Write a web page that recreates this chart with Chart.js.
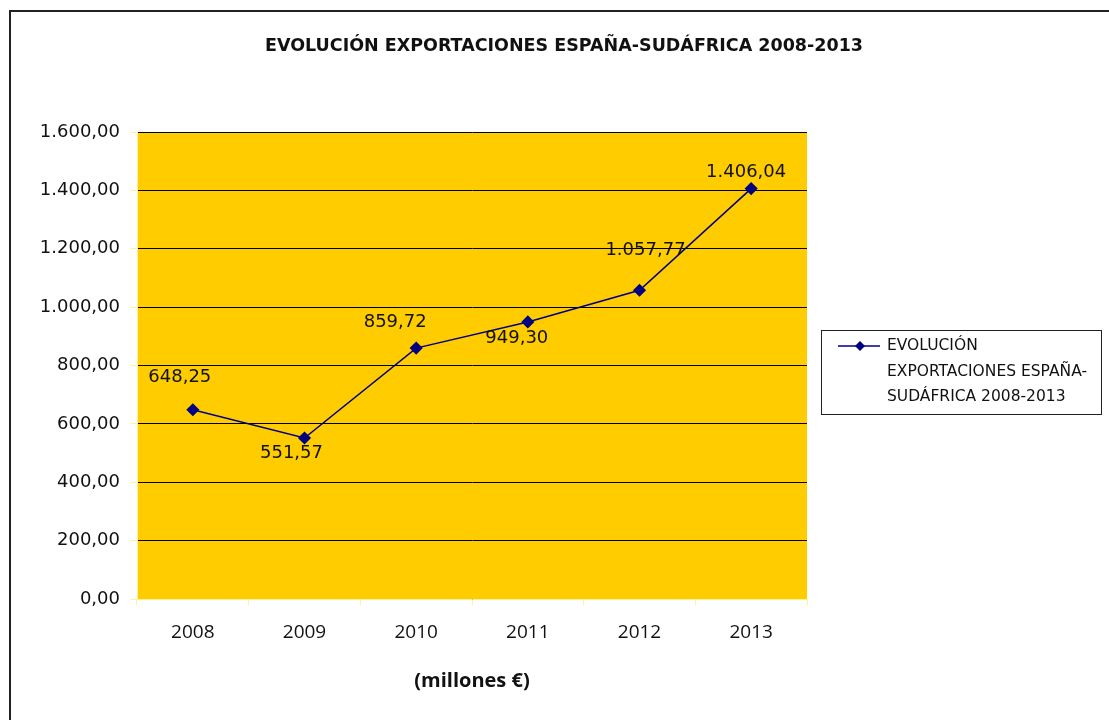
<!DOCTYPE html>
<html>
<head>
<meta charset="utf-8">
<script src="https://cdn.jsdelivr.net/npm/chart.js@4/dist/chart.umd.min.js"></script>
<style>
  html, body { margin: 0; padding: 0; background: #fff; overflow: hidden; }
  #wrap { position: relative; width: 1109px; height: 720px; }
  #frame { position: absolute; left: 9px; top: 10px; width: 1200px; height: 800px;
           border-left: 2px solid #222; border-top: 2px solid #222; }
  canvas { position: absolute; left: 0; top: 0; }
</style>
</head>
<body>
<div id="wrap">
  <div id="frame"></div>
  <canvas id="chart" width="1109" height="720"></canvas>
</div>
<script>
// datos
const years = ['2008', '2009', '2010', '2011', '2012', '2013'];
const exportsValues = [648.25, 551.57, 859.72, 949.30, 1057.77, 1406.04];
const seriesName = 'EVOLUCIÓN EXPORTACIONES ESPAÑA-SUDÁFRICA 2008-2013';
const legendLines = ['EVOLUCIÓN', 'EXPORTACIONES ESPAÑA-', 'SUDÁFRICA 2008-2013'];
// where each value label sits relative to its point (dx, dy)
const labelOffsets = [[-13, -32], [-13, 15], [-21, -26], [-11, 16], [6, -40], [-5, -16]];

function fmtEs(v) {
  const parts = v.toFixed(2).split('.');
  parts[0] = parts[0].replace(/\B(?=(\d{3})+(?!\d))/g, '.');
  return parts.join(',');
}

const plotBg = {
  id: 'plotBg',
  beforeDraw(chart) {
    const { ctx, chartArea: a } = chart;
    ctx.save();
    ctx.fillStyle = '#FFCC00';
    ctx.fillRect(a.left, a.top, a.right - a.left, a.bottom - a.top);
    ctx.restore();
  }
};

// title centred on the whole frame, not on the plot
const frameTitle = {
  id: 'frameTitle',
  afterDraw(chart) {
    const { ctx } = chart;
    ctx.save();
    ctx.font = 'bold 17.5px "DejaVu Sans"';
    ctx.fillStyle = '#111';
    ctx.textAlign = 'center';
    ctx.textBaseline = 'middle';
    ctx.fillText(seriesName, 564, 46);
    ctx.restore();
  }
};

const valueLabels = {
  id: 'valueLabels',
  afterDatasetsDraw(chart) {
    const { ctx } = chart;
    const meta = chart.getDatasetMeta(0);
    ctx.save();
    ctx.font = '18px "DejaVu Sans"';
    ctx.fillStyle = '#111';
    ctx.textAlign = 'center';
    ctx.textBaseline = 'middle';
    meta.data.forEach((pt, i) => {
      const [dx, dy] = labelOffsets[i];
      ctx.fillText(fmtEs(exportsValues[i]), pt.x + dx, pt.y + dy);
    });
    ctx.restore();
  }
};

const boxLegend = {
  id: 'boxLegend',
  afterDraw(chart) {
    const { ctx, chartArea: a } = chart;
    const x = a.right + 14, y = 330, w = 280, h = 84;
    ctx.save();
    ctx.fillStyle = '#fff';
    ctx.fillRect(x, y, w, h);
    ctx.strokeStyle = '#222';
    ctx.lineWidth = 1;
    ctx.strokeRect(x + 0.5, y + 0.5, w, h);
    // marker
    const my = y + 16;
    ctx.strokeStyle = '#000080';
    ctx.lineWidth = 1.5;
    ctx.beginPath();
    ctx.moveTo(x + 17, my);
    ctx.lineTo(x + 59, my);
    ctx.stroke();
    ctx.fillStyle = '#000080';
    ctx.beginPath();
    ctx.moveTo(x + 39, my - 5);
    ctx.lineTo(x + 44, my);
    ctx.lineTo(x + 39, my + 5);
    ctx.lineTo(x + 34, my);
    ctx.closePath();
    ctx.fill();
    ctx.fillStyle = '#111';
    ctx.font = '15.5px "DejaVu Sans"';
    ctx.textBaseline = 'middle';
    legendLines.forEach((line, i) => {
      ctx.fillText(line, x + 66, my + i * 25.5);
    });
    ctx.restore();
  }
};

const ctx = document.getElementById('chart').getContext('2d');
new Chart(ctx, {
  type: 'line',
  data: {
    labels: years,
    datasets: [{
      label: seriesName,
      data: exportsValues,
      borderColor: '#000080',
      backgroundColor: '#000080',
      borderWidth: 1.5,
      pointStyle: 'rectRot',
      pointRadius: 5.5,
      pointHoverRadius: 5.5,
      tension: 0,
      fill: false
    }]
  },
  options: {
    responsive: false,
    animation: false,
    layout: { padding: { left: 0, right: 302, top: 132, bottom: 27 } },
    plugins: {
      legend: { display: false },
      tooltip: { enabled: false },
      title: { display: false }
    },
    scales: {
      x: {
        offset: true,
        grid: {
          offset: true,
          drawOnChartArea: false,
          drawTicks: true,
          tickLength: 6,
          tickColor: '#FFF0A0'
        },
        border: { color: '#FFF0A0', width: 1 },
        ticks: {
          color: '#111',
          padding: 16,
          font: { family: '"Open Sans"', size: 19 }
        },
        title: {
          display: true,
          text: '(millones €)',
          color: '#111',
          font: { family: '"Open Sans"', size: 20, weight: 'bold' },
          padding: { top: 0, bottom: 0 }
        },
        afterFit(scale) { scale.height = 94; }
      },
      y: {
        min: 0,
        max: 1600,
        ticks: {
          stepSize: 200,
          color: '#111',
          padding: 11,
          font: { family: '"DejaVu Sans"', size: 18 },
          callback: v => fmtEs(v)
        },
        grid: {
          color: '#000',
          lineWidth: 1,
          tickLength: 6,
          tickColor: '#FFF0A0'
        },
        border: { color: '#FFF0A0', width: 1 },
        afterFit(scale) { scale.width = 137; }
      }
    }
  },
  plugins: [plotBg, valueLabels, boxLegend, frameTitle]
});
</script>
</body>
</html>
